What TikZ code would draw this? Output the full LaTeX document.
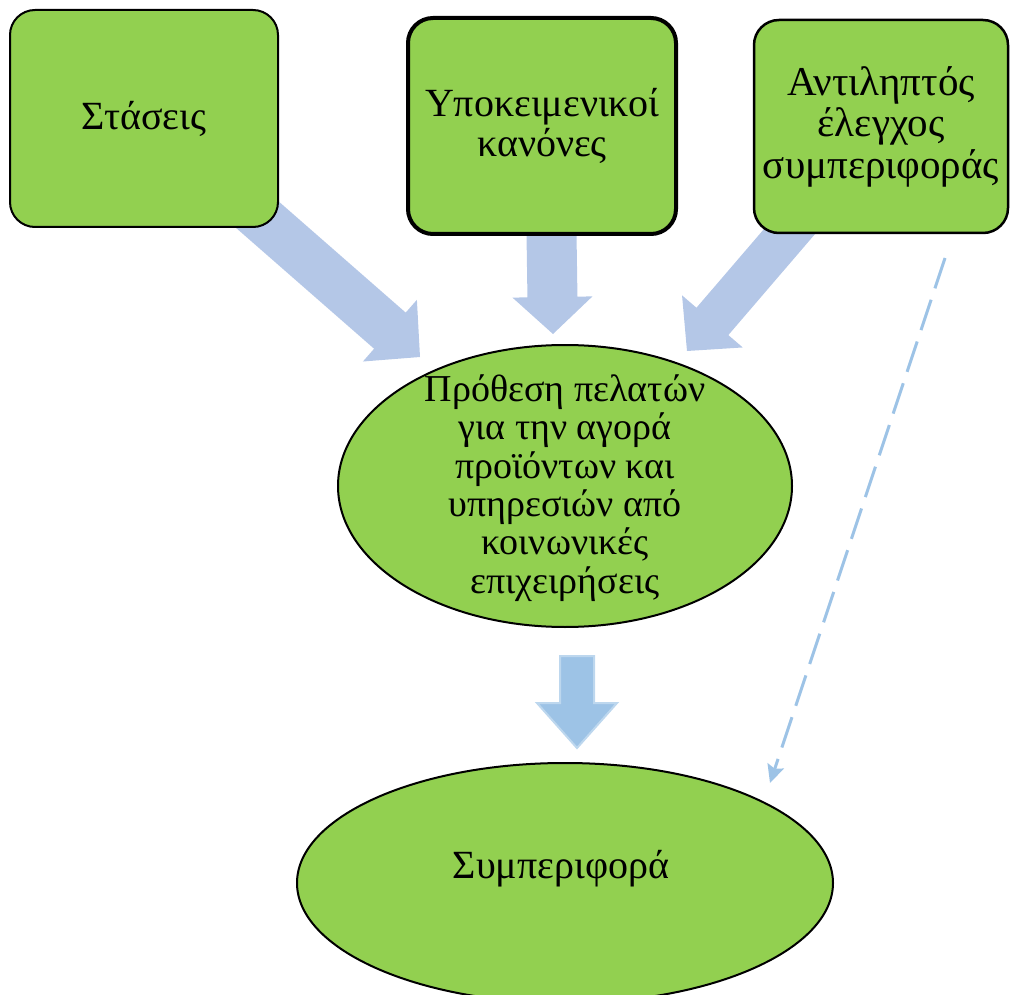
\documentclass[tikz,border=0pt]{standalone}
\usepackage{fontspec}
\setmainfont{Liberation Serif}
\usetikzlibrary{calc,shapes.geometric,arrows.meta,backgrounds}
\definecolor{boxgreen}{HTML}{92D050}
\definecolor{arrowblue}{HTML}{B4C7E7}
\definecolor{arrowblue2}{HTML}{9DC3E6}
\definecolor{arrowedge}{HTML}{BDD7EE}
% #1 start, #2 tip, #3 half shaft width, #4 half head width, #5 head length, #6 style
\newcommand\blockarrow[6]{%
  \coordinate (tmpH) at ($(#2)!#5!(#1)$);
  \path[#6] ($(#1)!#3!90:(#2)$) -- ($(tmpH)!#3!-90:(#1)$) -- ($(tmpH)!#4!-90:(#1)$) -- (#2)
    -- ($(tmpH)!#4!90:(#1)$) -- ($(tmpH)!#3!90:(#1)$) -- ($(#1)!#3!-90:(#2)$) -- cycle;}
\begin{document}
\begin{tikzpicture}[x=1pt,y=-1pt,
  box/.style={draw=black, fill=boxgreen, rounded corners=25pt, line width=2pt,
    inner sep=0pt, align=center, font=\fontsize{40}{40}\selectfont},
  ell/.style={ellipse, draw=black, fill=boxgreen, line width=2pt, inner sep=0pt},
  txt/.style={align=center, inner sep=0pt},
  dashconn/.style={draw=arrowblue2, line width=3pt, dash pattern=on 32pt off 12pt,
    -{Stealth[length=18pt,width=17pt,inset=3pt]}}]
\useasboundingbox (0,0) rectangle (1010,995);
% boxes
\node[box, minimum width=268pt, minimum height=217pt] (b1) at (144,118.5) {Στάσεις};
\node[box, line width=4pt, minimum width=268pt, minimum height=216pt] (b2) at (542,126) {Υποκειμενικοί\\κανόνες};
\node[box, line width=2.5pt, minimum width=254pt, minimum height=213pt,
  font=\fontsize{41}{41.5}\selectfont] (b3) at (881,126.5) {Αντιληπτός\\έλεγχος\\συμπεριφοράς};
% ellipses
\node[ell, minimum width=454pt, minimum height=282pt] (e1) at (565,486) {};
\node[txt, font=\fontsize{38}{38.3}\selectfont] (t1) at (565,488)
  {Πρόθεση πελατών\\για την αγορά\\προϊόντων και\\υπηρεσιών από\\κοινωνικές\\επιχειρήσεις};
\node[ell, minimum width=536pt, minimum height=240pt] (e2) at (565,883) {};
\node[txt, font=\fontsize{40}{44}\selectfont] (t2) at (561,869) {Συμπεριφορά};
% arrows
\coordinate (a1s) at (236,196);
\coordinate (a1t) at (420,357);
\coordinate (a2s) at (551,200);
\coordinate (a2t) at (553,334);
\coordinate (a3s) at (820,196);
\coordinate (a3t) at (687,351);
\coordinate (a4s) at (577,656);
\coordinate (a4t) at (577,748);
\coordinate (d1) at (945,258);
\coordinate (d2) at (770,783);
\begin{pgfonlayer}{background}
\blockarrow{a1s}{a1t}{24pt}{41pt}{40pt}{fill=arrowblue}
\blockarrow{a2s}{a2t}{25pt}{40pt}{37pt}{fill=arrowblue}
\blockarrow{a3s}{a3t}{21pt}{40pt}{39pt}{fill=arrowblue}
\blockarrow{a4s}{a4t}{17pt}{40pt}{45pt}{fill=arrowblue2, draw=arrowedge, line width=2pt}
\end{pgfonlayer}
\draw[dashconn] (d1) -- (d2);
\end{tikzpicture}
\end{document}
